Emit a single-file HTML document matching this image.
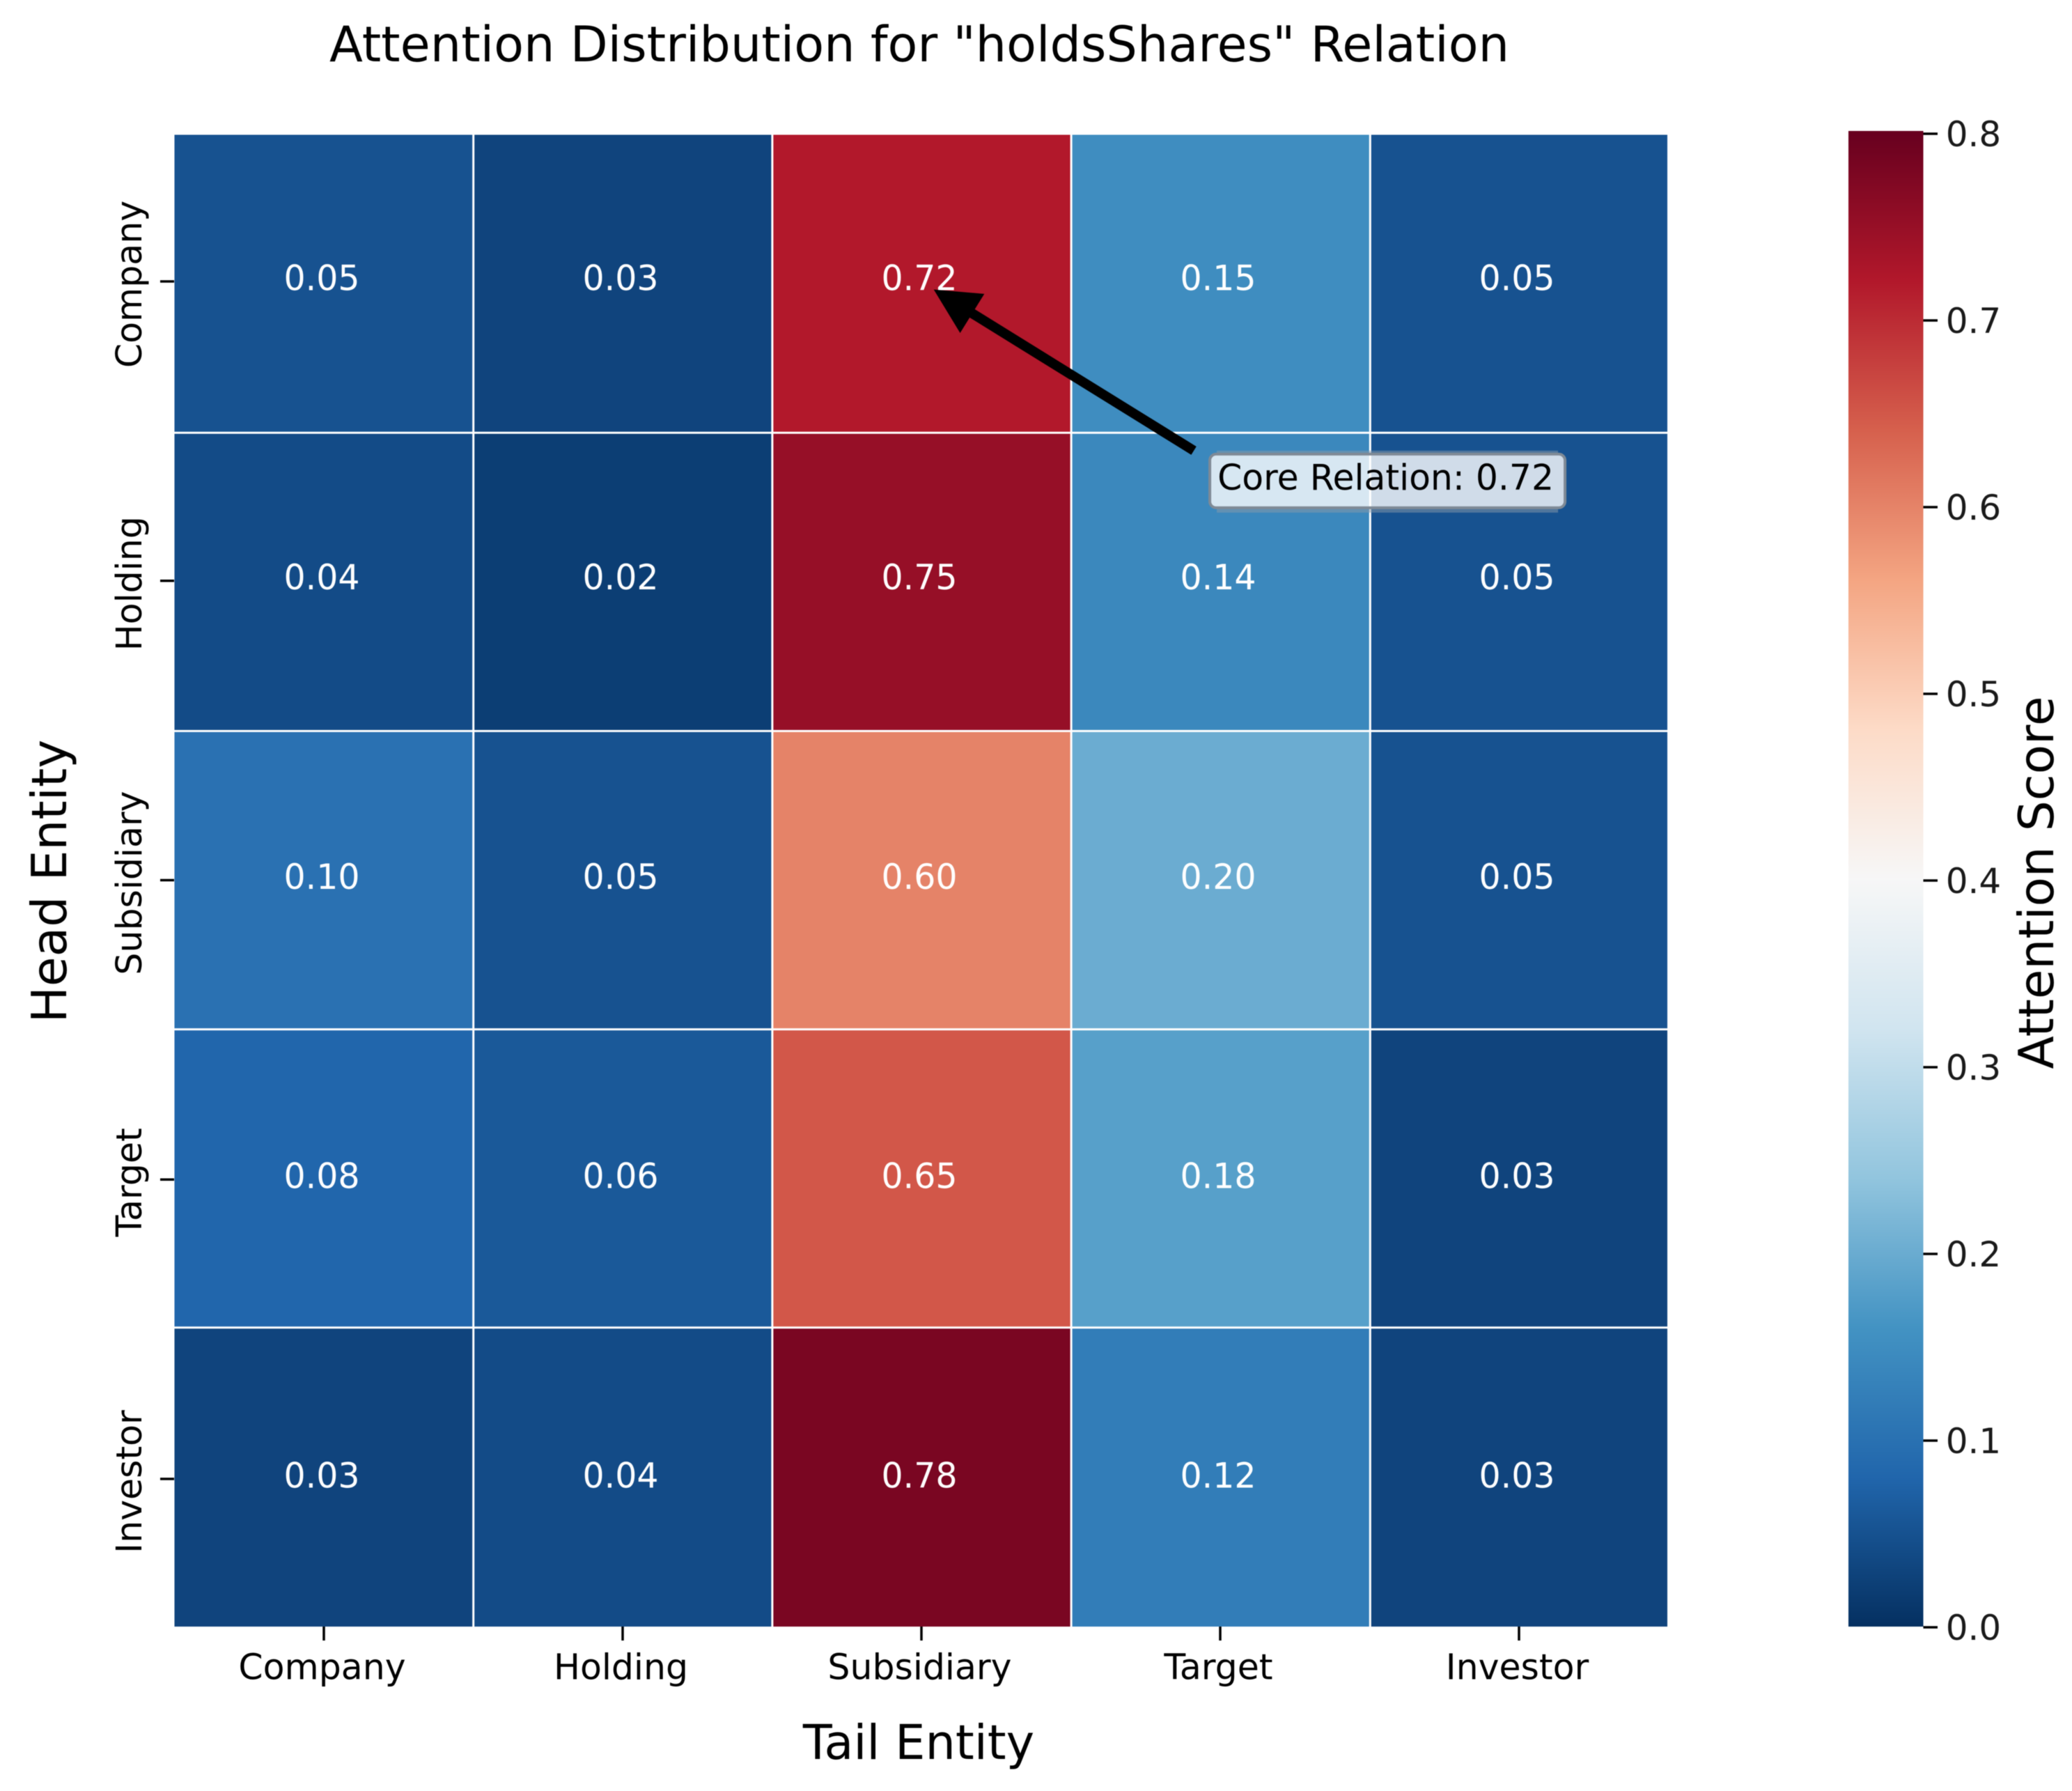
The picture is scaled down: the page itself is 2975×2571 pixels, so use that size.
<!DOCTYPE html>
<html lang="en">
<head>
<meta charset="utf-8">
<title>Attention Distribution for "holdsShares" Relation</title>
<style>
html,body{margin:0;padding:0;background:#fff;}
body{width:2975px;height:2571px;overflow:hidden;}
svg{display:block;filter:blur(0.6px);}
text{font-family:"DejaVu Sans","Liberation Sans",sans-serif;fill:#000;}
</style>
</head>
<body>
<svg id="chart" xmlns="http://www.w3.org/2000/svg" width="2975" height="2571" viewBox="0 0 2975 2571">
  <rect x="0" y="0" width="2975" height="2571" fill="#ffffff"/>
  <text x="473" y="88" font-size="70" textLength="1694" lengthAdjust="spacingAndGlyphs">Attention Distribution for "holdsShares" Relation</text>
  <text x="1319" y="2525" font-size="68.5" text-anchor="middle">Tail Entity</text>
  <text x="95" y="1265" font-size="69.5" text-anchor="middle" transform="rotate(-90 95 1265)">Head Entity</text>
  <text x="2948" y="1267" font-size="69.2" text-anchor="middle" transform="rotate(-90 2948 1267)">Attention Score</text>
  <defs>
    <clipPath id="plot-clip"><rect x="250" y="193.5" width="2144" height="2141.5"/></clipPath>
    <linearGradient id="colorbar-gradient" x1="0" y1="1" x2="0" y2="0"></linearGradient>
  </defs>
  <g id="cells" clip-path="url(#plot-clip)"></g>
  <g id="cell-labels"></g>
  <g id="x-axis"></g>
  <g id="y-axis"></g>
  <g id="colorbar"></g>
  <g id="annotation"></g>
</svg>
<script>
const tailEntities = ["Company", "Holding", "Subsidiary", "Target", "Investor"];
const headEntities = ["Company", "Holding", "Subsidiary", "Target", "Investor"];
const rowCompany = [0.05, 0.03, 0.72, 0.15, 0.05];
const rowHolding = [0.04, 0.02, 0.75, 0.14, 0.05];
const rowSubsidiary = [0.10, 0.05, 0.60, 0.20, 0.05];
const rowTarget = [0.08, 0.06, 0.65, 0.18, 0.03];
const rowInvestor = [0.03, 0.04, 0.78, 0.12, 0.03];
const attentionScores = [rowCompany, rowHolding, rowSubsidiary, rowTarget, rowInvestor];
const colorbarTicks = [0.0, 0.1, 0.2, 0.3, 0.4, 0.5, 0.6, 0.7, 0.8];
const scoreMin = 0.0;
const scoreMax = 0.8;
const coreRow = 0;
const coreColumn = 2;
const rdBuReversed = ["#053061", "#2166ac", "#4393c3", "#92c5de", "#d1e5f0", "#f7f7f7", "#fddbc7", "#f4a582", "#d6604d", "#b2182b", "#67001f"];

const NS = "http://www.w3.org/2000/svg";
const xEdge = i => 250.5 + 429.2 * i;
const yEdge = i => 193 + 428.2 * i;
const xTick = i => 465 + 429 * i;
const yTick = i => 404 + 429.75 * i;
const xCellText = i => 462 + 429 * i;
const yCellBaseline = i => 416.5 + 429.7 * i;
const yBar = v => 2336 - (v - scoreMin) / (scoreMax - scoreMin) * 2144;

function hexToRgb(h) {
  return [parseInt(h.slice(1, 3), 16), parseInt(h.slice(3, 5), 16), parseInt(h.slice(5, 7), 16)];
}
function scoreColor(v) {
  const t = Math.max(0, Math.min(1, (v - scoreMin) / (scoreMax - scoreMin))) * (rdBuReversed.length - 1);
  const lo = Math.min(Math.floor(t), rdBuReversed.length - 2);
  const f = t - lo;
  const a = hexToRgb(rdBuReversed[lo]);
  const b = hexToRgb(rdBuReversed[lo + 1]);
  return "rgb(" + a.map((c, k) => Math.round(c + (b[k] - c) * f)).join(",") + ")";
}
function make(tag, parent) {
  const el = document.createElementNS(NS, tag);
  parent.appendChild(el);
  return el;
}
function setAll(el, attrs) {
  for (const k in attrs) el.setAttribute(k, attrs[k]);
}

const cellsG = document.getElementById("cells");
const cellLabelsG = document.getElementById("cell-labels");
attentionScores.forEach((row, r) => {
  row.forEach((v, c) => {
    const cell = make("rect", cellsG);
    
    
    setAll(cell, {x: xEdge(c), y: yEdge(r), width: xEdge(c + 1) - xEdge(c) + 1, height: yEdge(r + 1) - yEdge(r) + 2, fill: scoreColor(v)});
    const label = make("text", cellLabelsG);
    
    
    setAll(label, {"font-size": 50, "text-anchor": "middle", transform: "translate(" + xCellText(c) + " " + yCellBaseline(r) + ") scale(0.98 1)"});
    label.style.fill = "#ffffff";
    label.textContent = v.toFixed(2);
  });
});
for (let c = 1; c < tailEntities.length; c++) {
  const gridLine = make("line", cellsG);
  
  
  setAll(gridLine, {x1: xEdge(c), x2: xEdge(c), y1: 190, y2: 2340, stroke: "#ffffff", "stroke-width": 3});
}
for (let r = 1; r < headEntities.length; r++) {
  const gridLine = make("line", cellsG);
  
  
  setAll(gridLine, {x1: 245, x2: 2400, y1: yEdge(r), y2: yEdge(r), stroke: "#ffffff", "stroke-width": 3});
}

const xAxisG = document.getElementById("x-axis");
tailEntities.forEach((name, i) => {
  const tick = make("line", xAxisG);
  
  
  setAll(tick, {x1: xTick(i), x2: xTick(i), y1: 2335, y2: 2355, stroke: "#000", "stroke-width": 3.5});
  const label = make("text", xAxisG);
  
  
  setAll(label, {x: xTick(i) - 2.5, y: 2410.5, "font-size": 50.5, "text-anchor": "middle"});
  label.textContent = name;
});

const yAxisG = document.getElementById("y-axis");
headEntities.forEach((name, i) => {
  const tick = make("line", yAxisG);
  
  
  setAll(tick, {x1: 230, x2: 250, y1: yTick(i), y2: yTick(i), stroke: "#000", "stroke-width": 3.5});
  const label = make("text", yAxisG);
  
  
  const cy = yTick(i) + 4;
  setAll(label, {x: 203, y: cy, "font-size": 50.5, "text-anchor": "middle", transform: "rotate(-90 203 " + cy + ")"});
  label.textContent = name;
});

const gradient = document.getElementById("colorbar-gradient");
rdBuReversed.forEach((color, i) => {
  const stop = make("stop", gradient);
  setAll(stop, {offset: i / (rdBuReversed.length - 1), "stop-color": color});
});
const colorbarG = document.getElementById("colorbar");
const barTop = yBar(scoreMax) - 4;
const barBottom = yBar(scoreMin) - 1;
const bar = make("rect", colorbarG);


setAll(bar, {x: 2654, y: barTop, width: 107.5, height: barBottom - barTop, fill: "url(#colorbar-gradient)"});
colorbarTicks.forEach(v => {
  const tick = make("line", colorbarG);
  
  
  setAll(tick, {x1: 2761.5, x2: 2782, y1: yBar(v), y2: yBar(v), stroke: "#000", "stroke-width": 3.5});
  const label = make("text", colorbarG);
  
  
  setAll(label, {"font-size": 50, transform: "translate(2793.7 " + (yBar(v) + 18) + ")"});
  label.style.fill = "#1a1a1a";
  label.textContent = v.toFixed(1);
});

const annG = document.getElementById("annotation");
const coreW = xEdge(coreColumn + 1) - xEdge(coreColumn);
const coreH = yEdge(coreRow + 1) - yEdge(coreRow);
const tipX = xEdge(coreColumn) + 0.54 * coreW;
const tipY = yEdge(coreRow) + 0.52 * coreH;
const tailX = xEdge(coreColumn) + 1.41 * coreW;
const tailY = yEdge(coreRow) + 1.06 * coreH;
const len = Math.hypot(tipX - tailX, tipY - tailY);
const ux = (tipX - tailX) / len;
const uy = (tipY - tailY) / len;
const headLen = 65;
const headHalf = 33;
const baseX = tipX - ux * headLen;
const baseY = tipY - uy * headLen;

const shaft = make("line", annG);


setAll(shaft, {x1: tailX, y1: tailY, x2: baseX + ux * 5, y2: baseY + uy * 5, stroke: "#000", "stroke-width": 14});
const head = make("polygon", annG);


setAll(head, {fill: "#000", points: [tipX, tipY, baseX - uy * headHalf, baseY + ux * headHalf, baseX + uy * headHalf, baseY - ux * headHalf].join(",")});

const boxX = tailX + 23;
const boxY = tailY + 5;
const boxW = 510;
const boxH = 77;
const haloTop = make("rect", annG);


setAll(haloTop, {x: boxX + 10, y: boxY - 5, width: boxW - 20, height: 5, fill: "#8a9aaa", opacity: 0.5});
const haloBottom = make("rect", annG);


setAll(haloBottom, {x: boxX + 10, y: boxY + boxH, width: boxW - 20, height: 7, fill: "#8a9aaa", opacity: 0.5});
const box = make("rect", annG);


setAll(box, {x: boxX, y: boxY, width: boxW, height: boxH, rx: 9, ry: 9, fill: "rgba(255,255,255,0.8)", stroke: "#7f8a96", "stroke-width": 4});
const boxText = make("text", annG);


setAll(boxText, {x: boxX + 11, y: boxY + 51, "font-size": 50.4});
boxText.textContent = "Core Relation: " + attentionScores[coreRow][coreColumn].toFixed(2);
</script>
</body>
</html>
